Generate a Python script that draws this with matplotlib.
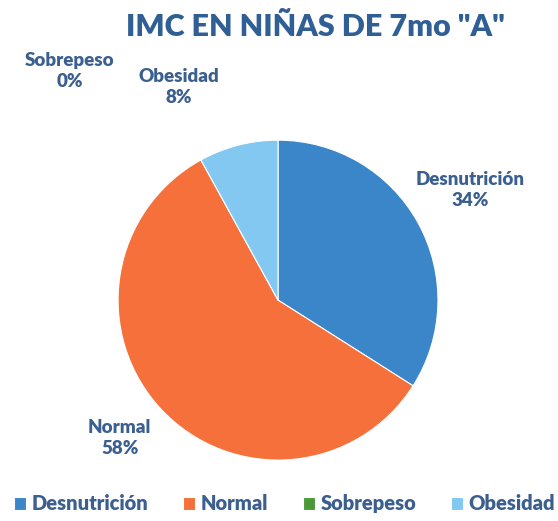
import matplotlib.pyplot as plt

# Datos del gráfico
categorias = ['Desnutrición', 'Normal', 'Sobrepeso', 'Obesidad']
porcentajes = [34, 58, 0, 8]
colores = ['#3a86c8', '#f5703a', '#4a9a3a', '#82c8f0']
texto_color = '#3b5f8f'

plt.rcParams['font.family'] = ['Lato', 'DejaVu Sans']

fig = plt.figure(figsize=(5.58, 5.21), dpi=100)
ax = fig.add_axes([0.2115, 0.117, 0.5735, 0.614])

wedges, _ = ax.pie(porcentajes, colors=colores, startangle=90, counterclock=False,
                   wedgeprops=dict(edgecolor='white', linewidth=0.8))
ax.set_xlim(-1, 1)
ax.set_ylim(-1, 1)

# Posiciones de las etiquetas (relativas al centro del pastel)
pos_etiquetas = [(1.2, 0.69), (-0.99, -0.86), (-1.3, 1.43), (-0.62, 1.33)]
for cat, p, (x, y) in zip(categorias, porcentajes, pos_etiquetas):
    ax.text(x, y, f'{cat}\n{p}%', ha='center', va='center', fontsize=13.5,
            fontweight='heavy', color=texto_color, linespacing=1.3, clip_on=False)

fig.suptitle('IMC EN NIÑAS DE 7mo "A"', x=0.565, y=0.975, fontsize=22,
             fontweight='heavy', color='#2f5f94')

leg = fig.legend(wedges, categorias, loc='lower center', ncol=4,
                 bbox_to_anchor=(0.51, -0.02), frameon=False, handlelength=0.6,
                 handleheight=0.6, handletextpad=0.3, columnspacing=1.7,
                 prop=dict(size=14.5, weight='heavy'))
for t in leg.get_texts():
    t.set_color(texto_color)

fig.savefig('out.png', dpi=100)
